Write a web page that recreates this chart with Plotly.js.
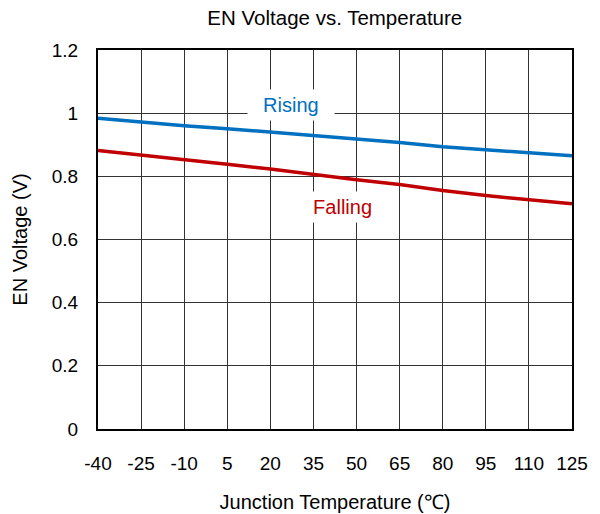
<!DOCTYPE html>
<html>
<head>
<meta charset="utf-8">
<script src="https://cdn.plot.ly/plotly-3.0.1.min.js"></script>
<style>html,body{margin:0;padding:0;background:#fff;}#chart{width:600px;height:514px;}</style>
</head>
<body>
<div id="chart"></div>
<script>
var temps = [-40, -25, -10, 5, 20, 35, 50, 65, 80, 95, 110, 125];
var rising = [0.984, 0.971, 0.960, 0.951, 0.940, 0.929, 0.919, 0.907, 0.894, 0.884, 0.875, 0.865];
var falling = [0.882, 0.868, 0.852, 0.838, 0.823, 0.805, 0.789, 0.774, 0.755, 0.739, 0.726, 0.713];
var xTicks = [-40, -25, -10, 5, 20, 35, 50, 65, 80, 95, 110, 125];
var yTicks = [0, 0.2, 0.4, 0.6, 0.8, 1, 1.2];
var yTickText = ["0", "0.2", "0.4", "0.6", "0.8", "1", "1.2"];

var fam = "Liberation Sans, Arial, sans-serif";

var traces = [
  {x: temps, y: rising, mode: "lines", name: "Rising", line: {color: "#0070C0", width: 3.5}},
  {x: temps, y: falling, mode: "lines", name: "Falling", line: {color: "#C00000", width: 3.5}}
];

var layout = {
  width: 600, height: 514,
  margin: {l: 98, r: 28, t: 50, b: 85},
  paper_bgcolor: "#fff", plot_bgcolor: "#fff",
  showlegend: false,
  font: {family: fam, size: 19, color: "#000"},
  title: {text: "EN Voltage vs. Temperature", font: {family: fam, size: 20.5, color: "#000"}, x: 0.558, xanchor: "center", y: 0.965, yanchor: "middle"},
  xaxis: {
    range: [-40, 125], tickvals: xTicks, ticktext: xTicks.map(String),
    showgrid: true, gridcolor: "#333", gridwidth: 1,
    zeroline: false, showline: true, linecolor: "#000", linewidth: 2, mirror: true,
    ticks: "", ticklabelstandoff: 16,
    tickfont: {family: fam, size: 19, color: "#000"},
    title: {text: "Junction Temperature (℃)", font: {family: fam, size: 20, color: "#000"}, standoff: 22}
  },
  yaxis: {
    range: [0, 1.2], tickvals: yTicks, ticktext: yTickText,
    showgrid: true, gridcolor: "#333", gridwidth: 1,
    zeroline: false, showline: true, linecolor: "#000", linewidth: 2, mirror: true,
    ticks: "", ticklabelstandoff: 14,
    tickfont: {family: fam, size: 19, color: "#000"},
    title: {text: "EN Voltage (V)", font: {family: fam, size: 20, color: "#000"}, standoff: 19}
  },
  annotations: [
    {x: 35, y: 0.93, xref: "x", yref: "y", text: "&nbsp;&nbsp;Rising&nbsp;&nbsp;", showarrow: true, arrowcolor: "rgba(0,0,0,0)", ax: -22, ay: -30,
     font: {family: fam, size: 20, color: "#0070C0"}, bgcolor: "#fff", borderpad: 4},
    {x: 45, y: 0.79, xref: "x", yref: "y", text: "&nbsp;&nbsp;Falling&nbsp;&nbsp;", showarrow: true, arrowcolor: "rgba(0,0,0,0)", ax: 0, ay: 28,
     font: {family: fam, size: 20, color: "#C00000"}, bgcolor: "#fff", borderpad: 4}
  ]
};

Plotly.newPlot("chart", traces, layout, {displayModeBar: false, staticPlot: true});
</script>
</body>
</html>
